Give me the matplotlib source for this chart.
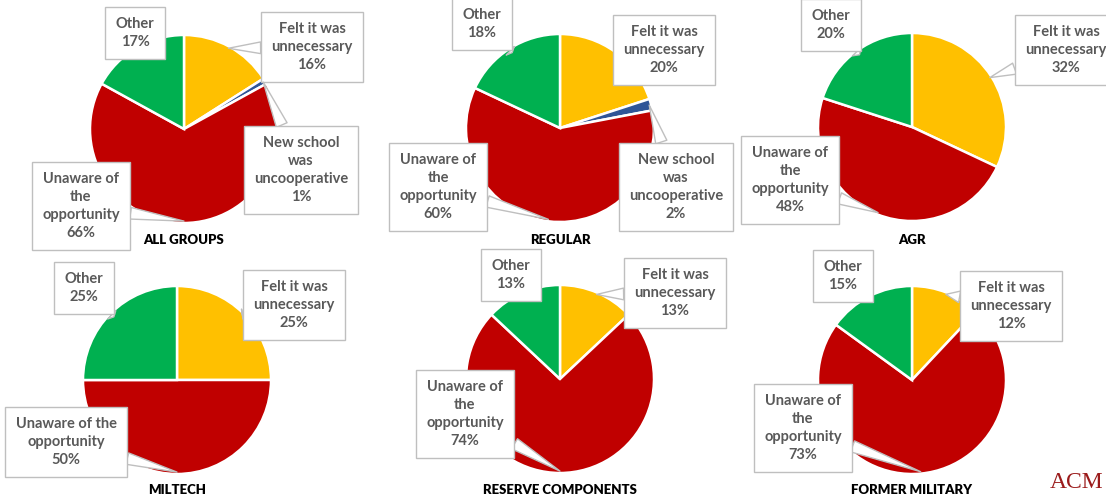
import numpy as np
import matplotlib.pyplot as plt

# Reasons for not transferring, share of respondents by group
groups = ["ALL GROUPS", "REGULAR", "AGR", "MILTECH", "RESERVE COMPONENTS", "FORMER MILITARY"]
felt_unnecessary = [16, 20, 32, 25, 13, 12]
new_school_uncooperative = [1, 2, 0, 0, 0, 0]
unaware = [66, 60, 48, 50, 74, 73]
other = [17, 18, 20, 25, 13, 15]

reason_names = ["Felt it was\nunnecessary", "New school\nwas\nuncooperative",
                "Unaware of\nthe\nopportunity", "Other"]
colors = ["#FFC000", "#2F5597", "#C00000", "#00B050"]

W, H = 1106, 499
GRAY = "#595959"
EDGE = "#BFBFBF"

# pie centre (px), radius (px), title y (px)
layout = [
    (184, 129, 94, 240),
    (560, 128, 94, 240),
    (912, 127, 94, 240),
    (177, 380, 94, 490),
    (560, 379, 94, 490),
    (912, 380, 94, 490),
]
# label box centres (px) for each reason, per pie
label_pos = [
    [(312, 47), (301, 170), (81, 206), (135, 33)],
    [(664, 50), (676, 187), (438, 187), (482, 24)],
    [(1066, 50), None, (790, 180), (831, 25)],
    [(294, 305), None, (66, 442), (84, 288)],
    [(675, 293), None, (465, 414), (511, 275)],
    [(1011, 306), None, (803, 428), (843, 276)],
]
# how far along the radius each callout tail lands
tail_r = [0.98, 0.98, 0.98, 0.95]

plt.rcParams["font.family"] = ["Lato", "DejaVu Sans"]
fig = plt.figure(figsize=(W / 100, H / 100), dpi=100)

for i, name in enumerate(groups):
    cx, cy, r, ty = layout[i]
    ax = fig.add_axes([(cx - r) / W, 1 - (cy + r) / H, 2 * r / W, 2 * r / H])
    vals = [felt_unnecessary[i], new_school_uncooperative[i], unaware[i], other[i]]
    keep = [k for k, v in enumerate(vals) if v > 0]
    wedges, _ = ax.pie([vals[k] for k in keep], colors=[colors[k] for k in keep],
                       startangle=90, counterclock=False,
                       wedgeprops=dict(edgecolor="white", linewidth=1.8))
    ax.set_xlim(-1, 1)
    ax.set_ylim(-1, 1)

    for w, k in zip(wedges, keep):
        pos = label_pos[i][k]
        mid = np.deg2rad((w.theta1 + w.theta2) / 2)
        tx, ty_ = tail_r[k] * np.cos(mid), tail_r[k] * np.sin(mid)
        text = reason_names[k]
        if name == "MILTECH" and k == 2:
            text = "Unaware of the\nopportunity"
        ax.annotate(f"{text}\n{vals[k]}%", xy=(tx, ty_),
                    xytext=(pos[0], H - pos[1]), textcoords="figure pixels",
                    ha="center", va="center", fontsize=10.5, fontweight="bold",
                    color=GRAY, linespacing=1.38, annotation_clip=False,
                    bbox=dict(boxstyle="square,pad=0.7", fc="white", ec=EDGE, lw=1),
                    arrowprops=dict(arrowstyle="wedge,tail_width=0.8,shrink_factor=0.5",
                                    fc="white", ec=EDGE, lw=1,
                                    shrinkA=0, shrinkB=0))

    fig.text(cx / W, 1 - ty / H, name, ha="center", va="center",
             fontsize=9.5, fontweight="heavy", color="black")

fig.text(1103 / W, 1 - 482 / H, "ACM", ha="right", va="center",
         fontsize=17, color="#9B1B1B", family="Liberation Serif")

fig.savefig("out.png", dpi=100)
